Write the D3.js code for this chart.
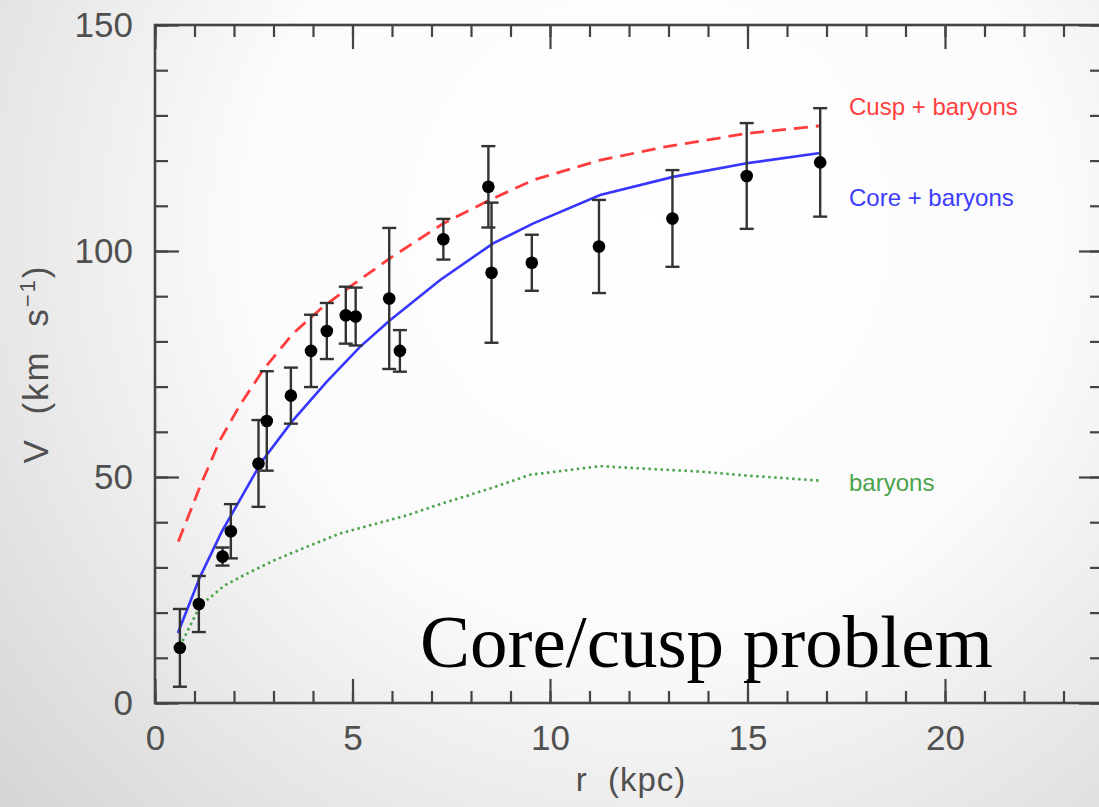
<!DOCTYPE html>
<html>
<head>
<meta charset="utf-8">
<script src="https://cdn.jsdelivr.net/npm/d3@7"></script>
<style>
  html, body { margin: 0; padding: 0; background: #fff; }
  svg { display: block; }
</style>
</head>
<body>
<svg id="chart" width="1099" height="807"></svg>
<script>
// ---- data ----
const obsR   = [0.63, 1.11, 1.71, 1.92, 2.62, 2.83, 3.44, 3.95, 4.35, 4.83, 5.08, 5.93, 6.20, 7.30, 8.44, 8.52, 9.54, 11.24, 13.10, 14.98, 16.84];
const obsV   = [12.2, 21.9, 32.4, 38.0, 53.0, 62.4, 68.0, 77.9, 82.3, 85.8, 85.5, 89.5, 77.9, 102.6, 114.2, 95.2, 97.4, 101.0, 107.2, 116.6, 119.6];
const obsErr = [8.6, 6.2, 2.0, 6.0, 9.6, 11.0, 6.2, 8.0, 6.2, 6.3, 6.4, 15.6, 4.6, 4.5, 9.0, 15.5, 6.2, 10.3, 10.7, 11.7, 12.0];

const coreR = [0.58, 1.14, 1.69, 2.70, 3.46, 4.35, 5.19, 5.95, 7.22, 8.56, 9.58, 11.27, 13.12, 14.98, 16.84];
const coreV = [15.5, 27.9, 37.9, 53.4, 62.2, 71.1, 78.8, 84.7, 93.6, 101.7, 106.1, 112.4, 116.4, 119.4, 121.7];

const cuspR = [0.59, 1.14, 1.65, 2.15, 2.74, 3.50, 4.26, 5.00, 6.00, 7.30, 8.48, 9.58, 11.27, 12.95, 14.98, 16.84];
const cuspV = [35.7, 47.9, 58.2, 65.9, 73.7, 81.8, 87.7, 92.5, 98.7, 106.1, 111.3, 115.7, 120.1, 123.1, 126.0, 127.7];

const barR = [0.63, 1.14, 1.76, 2.30, 3.00, 3.63, 4.68, 6.37, 7.22, 8.50, 9.50, 11.27, 12.50, 13.80, 15.00, 16.84];
const barV = [12.5, 21.5, 26.0, 28.5, 31.5, 33.8, 37.5, 41.5, 44.0, 47.5, 50.5, 52.4, 51.8, 51.2, 50.3, 49.2];

const xMajorTicks = [0, 5, 10, 15, 20];
const yMajorTicks = [0, 50, 100, 150];
const xTitle = "r  (kpc)";
const yTitleMain = "V  (km  s";
const yTitleSup = "\u22121";
const legendLabels = ["Cusp + baryons", "Core + baryons", "baryons"];
const legendValues = [130.0, 110.0, 46.9];
const overlayText = "Core/cusp problem";

// ---- drawing ----
const svg = d3.select("#chart");
const W = 1099, H = 807;

const defs = svg.append("defs");
const grad = defs.append("radialGradient")
  .attr("id", "bg").attr("gradientUnits", "userSpaceOnUse")
  .attr("cx", 650).attr("cy", 230).attr("r", 900);
grad.append("stop").attr("offset", "0%").attr("stop-color", "#ffffff");
grad.append("stop").attr("offset", "45%").attr("stop-color", "#fbfbfb");
grad.append("stop").attr("offset", "100%").attr("stop-color", "#d2d2d2");
svg.append("rect").attr("width", W).attr("height", H).attr("fill", "url(#bg)");

const x = d3.scaleLinear().domain([0, 24]).range([155, 1103]);
const y = d3.scaleLinear().domain([0, 150]).range([703, 25]);

const axisColor = "#444";
const fontSans = "'Liberation Sans', Arial, Helvetica, sans-serif";

function styleAxis(g) {
  g.select(".domain").remove();
  g.selectAll(".tick line").attr("stroke", axisColor).attr("stroke-width", 2.2);
  g.selectAll(".tick text").attr("fill", "#505050")
    .style("font-family", fontSans).style("font-size", "35px");
}

const xMinor = d3.range(0, 25, 1);
const yMinor = d3.range(0, 151, 10);

// bottom
svg.append("g").attr("transform", `translate(0,${y(0)})`)
  .call(d3.axisBottom(x).tickValues(xMinor).tickSize(-12).tickFormat(""))
  .call(styleAxis);
svg.append("g").attr("transform", `translate(0,${y(0)})`)
  .call(d3.axisBottom(x).tickValues(xMajorTicks).tickSize(-24).tickPadding(22).tickFormat(d3.format("d")))
  .call(styleAxis);
// top
svg.append("g").attr("transform", `translate(0,${y(150)})`)
  .call(d3.axisTop(x).tickValues(xMinor).tickSize(-12).tickFormat(""))
  .call(styleAxis);
svg.append("g").attr("transform", `translate(0,${y(150)})`)
  .call(d3.axisTop(x).tickValues(xMajorTicks).tickSize(-24).tickFormat(""))
  .call(styleAxis);
// left
svg.append("g").attr("transform", `translate(${x(0)},0)`)
  .call(d3.axisLeft(y).tickValues(yMinor).tickSize(-13).tickFormat(""))
  .call(styleAxis);
svg.append("g").attr("transform", `translate(${x(0)},0)`)
  .call(d3.axisLeft(y).tickValues(yMajorTicks).tickSize(-24).tickPadding(22).tickFormat(d3.format("d")))
  .call(styleAxis);
// right
svg.append("g").attr("transform", `translate(${x(24)},0)`)
  .call(d3.axisRight(y).tickValues(yMinor).tickSize(-13).tickFormat(""))
  .call(styleAxis);
svg.append("g").attr("transform", `translate(${x(24)},0)`)
  .call(d3.axisRight(y).tickValues(yMajorTicks).tickSize(-24).tickFormat(""))
  .call(styleAxis);

// frame
svg.append("rect")
  .attr("x", x(0)).attr("y", y(150))
  .attr("width", x(24) - x(0)).attr("height", y(0) - y(150))
  .attr("fill", "none").attr("stroke", axisColor).attr("stroke-width", 2.6);

// axis titles
svg.append("text")
  .attr("x", (x(0) + x(24)) / 2 + 2).attr("y", 791)
  .attr("text-anchor", "middle")
  .style("font-family", fontSans).style("font-size", "33px")
  .style("white-space", "pre").style("letter-spacing", "1px")
  .attr("fill", "#505050")
  .text(xTitle);

const yt = svg.append("text")
  .attr("transform", `translate(48,${(y(0) + y(150)) / 2}) rotate(-90)`)
  .attr("text-anchor", "middle")
  .style("font-family", fontSans).style("font-size", "35px")
  .style("white-space", "pre").style("letter-spacing", "2px")
  .attr("fill", "#505050");
yt.append("tspan").text(yTitleMain);
yt.append("tspan").attr("dy", -13).style("font-size", "22px").text(yTitleSup);
yt.append("tspan").attr("dy", 13).text(")");

// curves
const line = d3.line().x(d => x(d[0])).y(d => y(d[1])).curve(d3.curveLinear);
const barData = barR.map((r, i) => [r, barV[i]]);
const coreData = coreR.map((r, i) => [r, coreV[i]]);
const cuspData = cuspR.map((r, i) => [r, cuspV[i]]);

svg.append("path").datum(barData).attr("d", line)
  .attr("fill", "none").attr("stroke", "#4aa24a").attr("stroke-width", 2.6)
  .attr("stroke-dasharray", "2.5,3.5");
svg.append("path").datum(cuspData).attr("d", line)
  .attr("fill", "none").attr("stroke", "#ff3d3d").attr("stroke-width", 2.8)
  .attr("stroke-dasharray", "14,8");
svg.append("path").datum(coreData).attr("d", line)
  .attr("fill", "none").attr("stroke", "#3636ff").attr("stroke-width", 2.6);

// error bars + points
const obs = obsR.map((r, i) => ({ r, v: obsV[i], e: obsErr[i] }));
const eb = svg.append("g").attr("stroke", "#333").attr("stroke-width", 2.4);
eb.selectAll("line.v").data(obs).join("line").attr("class", "v")
  .attr("x1", d => x(d.r)).attr("x2", d => x(d.r))
  .attr("y1", d => y(d.v - d.e)).attr("y2", d => y(d.v + d.e));
eb.selectAll("line.t").data(obs).join("line").attr("class", "t")
  .attr("x1", d => x(d.r) - 7).attr("x2", d => x(d.r) + 7)
  .attr("y1", d => y(d.v + d.e)).attr("y2", d => y(d.v + d.e));
eb.selectAll("line.b").data(obs).join("line").attr("class", "b")
  .attr("x1", d => x(d.r) - 7).attr("x2", d => x(d.r) + 7)
  .attr("y1", d => y(d.v - d.e)).attr("y2", d => y(d.v - d.e));
svg.append("g").selectAll("circle").data(obs).join("circle")
  .attr("cx", d => x(d.r)).attr("cy", d => y(d.v)).attr("r", 6.3)
  .attr("fill", "#000");

// legend labels
const legendColors = ["#ff4040", "#3d3dff", "#4aa24a"];
svg.append("g").selectAll("text").data(legendLabels).join("text")
  .attr("x", x(17.57))
  .attr("y", (d, i) => y(legendValues[i]))
  .attr("fill", (d, i) => legendColors[i])
  .style("font-family", fontSans).style("font-size", "24px")
  .text(d => d);

// overlay text
svg.append("text")
  .attr("x", 420).attr("y", 667)
  .style("font-family", "'Liberation Serif', 'Times New Roman', serif")
  .style("font-size", "75px").attr("fill", "#000")
  .text(overlayText);
</script>
</body>
</html>
